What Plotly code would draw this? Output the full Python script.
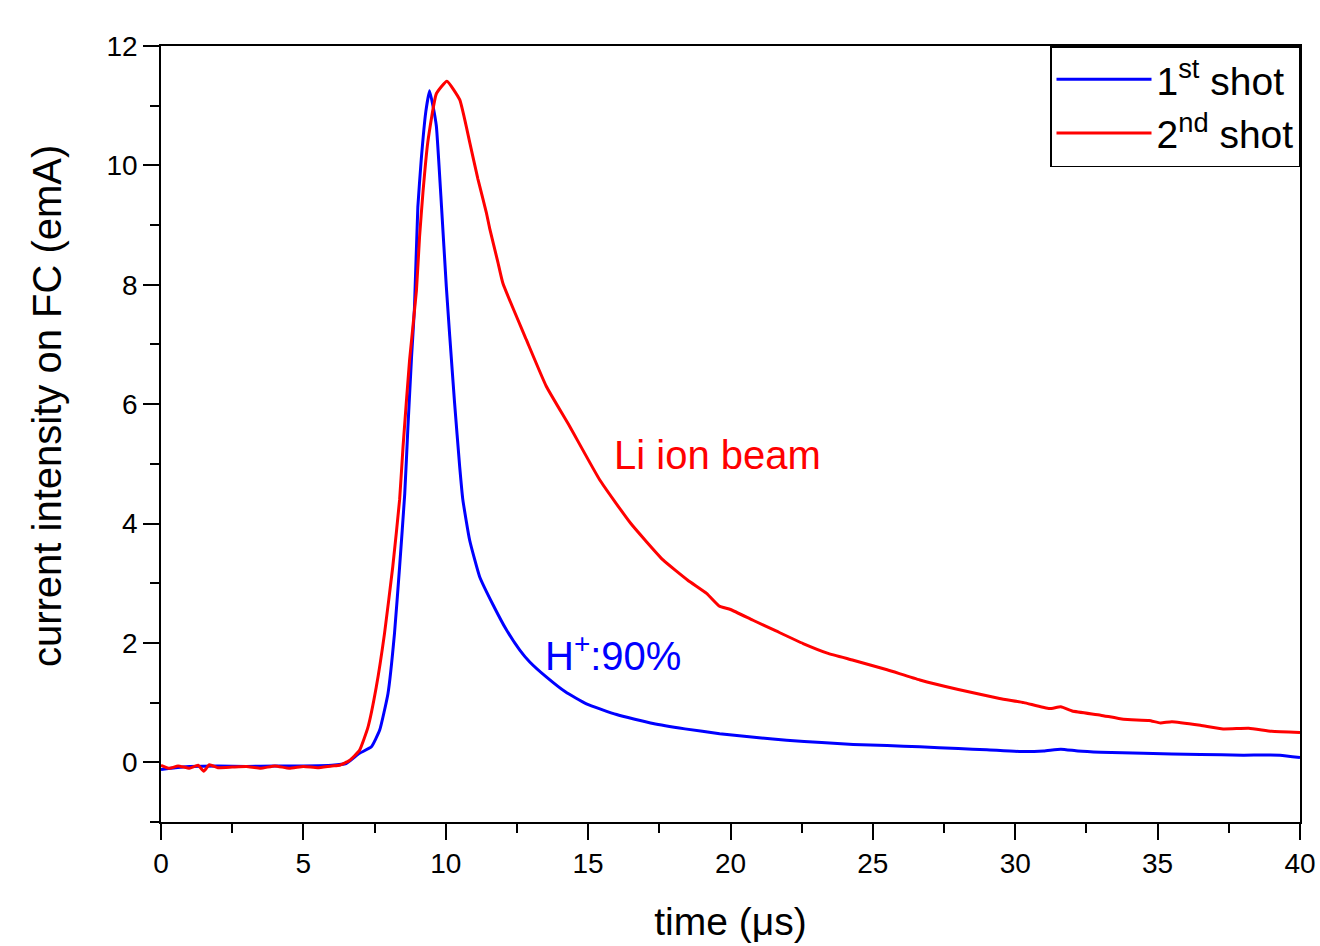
import plotly.graph_objects as go

# 1st shot (blue) - time in us, current in emA
t_shot1 = [0, 0.5, 1, 2, 3, 4, 5, 6, 6.5, 6.97, 7.39, 7.68, 7.97, 8.2, 8.38,
           8.56, 8.67, 8.8, 8.9, 9.02, 9.14, 9.3, 9.43, 9.55, 9.67, 9.85,
           10.02, 10.14, 10.31, 10.49, 10.6, 10.84, 11.19, 11.66, 12.13, 12.6,
           12.95, 13.53, 14.2, 14.94, 16.0, 17.28, 18.4, 19.62, 21.0, 21.97,
           23.2, 24.31, 25.5, 26.65, 28, 29, 30.2, 31.0, 31.6, 32.2, 33, 34.5,
           36.5, 38, 39.3, 40]
i_shot1 = [-0.12, -0.09, -0.07, -0.06, -0.07, -0.06, -0.06, -0.05, -0.02, 0.15,
           0.26, 0.54, 1.15, 2.16, 3.28, 4.5, 5.6, 6.8, 7.6, 9.3, 10.1, 10.9,
           11.25, 11.0, 10.66, 9.32, 7.97, 7.14, 6.02, 4.95, 4.4, 3.72, 3.11,
           2.64, 2.22, 1.88, 1.68, 1.43, 1.18, 0.98, 0.8, 0.65, 0.56, 0.48,
           0.41, 0.37, 0.33, 0.30, 0.28, 0.26, 0.23, 0.21, 0.18, 0.19, 0.22,
           0.19, 0.17, 0.15, 0.13, 0.12, 0.12, 0.08]

# 2nd shot (red)
t_shot2 = [0, 0.3, 0.6, 1.0, 1.3, 1.5, 1.7, 2.0, 2.5, 3, 3.5, 4, 4.5, 5, 5.5,
           6, 6.27, 6.62, 6.97, 7.27, 7.56, 7.85, 8.14, 8.38, 8.5, 8.73, 8.97,
           9.08, 9.2, 9.37, 9.67, 10.04, 10.49, 10.84, 11.13, 11.43, 11.54,
           11.83, 12.01, 12.83, 13.53, 14.35, 15.41, 16.5, 17.63, 18.5, 19.16,
           19.6, 20.0, 20.79, 21.6, 22.55, 23.4, 24.31, 25.5, 26.65, 28.0,
           29.45, 30.3, 31.2, 31.6, 32.0, 33, 33.8, 34.7, 35.1, 35.5, 36.5,
           37.3, 38.2, 39.0, 40]
i_shot2 = [-0.05, -0.1, -0.06, -0.1, -0.05, -0.15, -0.04, -0.09, -0.08, -0.07,
           -0.1, -0.06, -0.1, -0.07, -0.09, -0.06, -0.05, 0.03, 0.2, 0.59,
           1.26, 2.16, 3.28, 4.4, 5.29, 6.74, 7.9, 8.8, 9.55, 10.39, 11.2,
           11.41, 11.1, 10.39, 9.77, 9.2, 8.95, 8.38, 8.02, 7.08, 6.3, 5.63,
           4.73, 4.0, 3.39, 3.05, 2.83, 2.62, 2.56, 2.38, 2.2, 1.99, 1.83, 1.71,
           1.55, 1.38, 1.22, 1.07, 1.0, 0.9, 0.93, 0.86, 0.79, 0.72, 0.7, 0.66,
           0.68, 0.62, 0.56, 0.57, 0.52, 0.5]

font_family = "Arial, Liberation Sans, sans-serif"

fig = go.Figure()
fig.add_trace(go.Scatter(x=t_shot1, y=i_shot1, mode="lines",
                         line=dict(color="#0000ff", width=3,
                                   shape="spline", smoothing=0.4),
                         name="1<sup>st</sup> shot"))
fig.add_trace(go.Scatter(x=t_shot2, y=i_shot2, mode="lines",
                         line=dict(color="#ff0000", width=3,
                                   shape="spline", smoothing=0.4),
                         name="2<sup>nd</sup> shot"))

fig.add_annotation(x=15.83, y=5.15, xanchor="left", yanchor="middle",
                   text="Li ion beam", showarrow=False,
                   font=dict(size=40, color="#ff0000", family=font_family))
fig.add_annotation(x=13.4, y=1.83, xanchor="left", yanchor="middle",
                   text="H<sup>+</sup>:90%", showarrow=False,
                   font=dict(size=40, color="#0000ff", family=font_family))

# y title placed by hand, it sits a bit above the plot centre in the original
fig.add_annotation(xref="paper", yref="paper", x=-0.1001, y=0.536,
                   xanchor="center", yanchor="middle", textangle=-90,
                   text="current intensity on FC (emA)", showarrow=False,
                   font=dict(size=40, color="black", family=font_family))

axis_common = dict(showgrid=False, zeroline=False, showline=True,
                   linecolor="black", linewidth=1.5, mirror=True,
                   ticks="outside", ticklen=16, tickwidth=1.5,
                   tickcolor="black", automargin=False,
                   tickfont=dict(size=28, color="black", family=font_family))

fig.update_xaxes(range=[0, 40], dtick=5, tick0=0,
                 minor=dict(dtick=2.5, ticks="outside", ticklen=9,
                            tickwidth=1.5, tickcolor="black"),
                 title=dict(text="time (μs)", standoff=29,
                            font=dict(size=39, color="black", family=font_family)),
                 **axis_common)
fig.update_yaxes(range=[-1, 12], dtick=2, tick0=0,
                 minor=dict(dtick=1, ticks="outside", ticklen=9,
                            tickwidth=1.5, tickcolor="black"),
                 **axis_common)

fig.update_layout(
    width=1320, height=946,
    margin=dict(l=161, r=20, t=46, b=124),
    plot_bgcolor="white", paper_bgcolor="white",
    font=dict(family=font_family, color="black"),
    legend=dict(x=1.0, y=1.0, xanchor="right", yanchor="top",
                bordercolor="black", borderwidth=1.5, bgcolor="white",
                itemwidth=95, tracegroupgap=0,
                font=dict(size=39, color="black", family=font_family)),
)

# drop the default body margin so the figure fills the window exactly
fig.write_html("out.html",
               config={"displayModeBar": False},
               post_script="document.body.style.margin='0';"
                           "document.body.style.overflow='hidden';")
